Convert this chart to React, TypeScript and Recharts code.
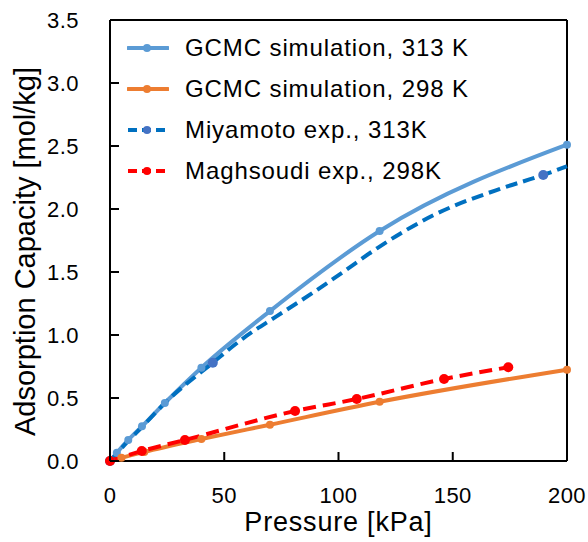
import React from "react";
import {
  ComposedChart,
  Line,
  XAxis,
  YAxis,
  ReferenceLine,
  Legend,
  Label,
} from "recharts";

// GCMC simulation, 313 K
const gcmc313P = [0, 3, 8, 14, 24, 40, 70, 118, 200];
const gcmc313Q = [0, 0.065, 0.167, 0.275, 0.46, 0.74, 1.19, 1.825, 2.51];

// GCMC simulation, 298 K
const gcmc298P = [0, 5, 15, 40, 70, 118, 200];
const gcmc298Q = [0, 0.025, 0.072, 0.174, 0.288, 0.47, 0.725];

// Miyamoto exp., 313K (curve + measured markers)
const miyamotoP = [0, 3, 8, 14, 24, 45, 58, 73, 87.5, 102, 117, 141.5, 170.7, 189.6, 200];
const miyamotoQ = [0, 0.06, 0.16, 0.27, 0.46, 0.78, 0.97, 1.15, 1.32, 1.5, 1.69, 1.95, 2.16, 2.27, 2.34];
const miyamotoMarkP = [0, 45, 189.6];
const miyamotoMarkQ = [0, 0.78, 2.27];

// Maghsoudi exp., 298K
const maghsoudiP = [0, 13.9, 32.8, 81, 108, 146.2, 174.3];
const maghsoudiQ = [0, 0.079, 0.167, 0.397, 0.492, 0.651, 0.744];

const xTicks = [0, 50, 100, 150, 200];
const yTicks = [0, 0.5, 1, 1.5, 2, 2.5, 3, 3.5];

const legendItems = [
  { name: "GCMC simulation, 313 K", color: "#5B9BD5", dot: "#5B9BD5", dashed: false },
  { name: "GCMC simulation, 298 K", color: "#ED7D31", dot: "#ED7D31", dashed: false },
  { name: "Miyamoto exp., 313K", color: "#0070C0", dot: "#4472C4", dashed: true },
  { name: "Maghsoudi exp., 298K", color: "#FF0000", dot: "#FF0000", dashed: true },
];

const FONT = "'Liberation Sans', Arial, sans-serif";

const toPoints = (ps: number[], qs: number[]) =>
  ps.map((p, i) => ({ p, q: qs[i] }));

// ticks point inward, like the Excel original
const XTick = (props: any) => {
  const { x, y, payload } = props;
  return (
    <g>
      <path d={`M${x},${y}V${y - 9}`} stroke="#000" strokeWidth={2} fill="none" />
      <text
        x={x}
        y={y + 42}
        textAnchor="middle"
        fontSize={22}
        fontFamily={FONT}
        fill="#000"
        letterSpacing={0.5}
      >
        {payload.value}
      </text>
    </g>
  );
};

const YTick = (props: any) => {
  const { x, y, payload } = props;
  return (
    <g>
      <path d={`M${x},${y}H${x + 9}`} stroke="#000" strokeWidth={2} fill="none" />
      <text
        x={x - 31}
        y={y + 8}
        textAnchor="end"
        fontSize={22}
        fontFamily={FONT}
        fill="#000"
        letterSpacing={0.5}
      >
        {Number(payload.value).toFixed(1)}
      </text>
    </g>
  );
};

const LegendBox = () => (
  <div style={{ fontFamily: FONT, fontSize: 24, letterSpacing: 0.9, color: "#000" }}>
    {legendItems.map((item) => (
      <div
        key={item.name}
        style={{ display: "flex", alignItems: "center", height: 41 }}
      >
        <svg width={42} height={12} style={{ marginRight: 16 }}>
          {item.dashed ? (
            <line
              x1={1}
              y1={6}
              x2={41}
              y2={6}
              stroke={item.color}
              strokeWidth={4}
              strokeDasharray="9 5"
            />
          ) : (
            <line
              x1={1}
              y1={6}
              x2={41}
              y2={6}
              stroke={item.color}
              strokeWidth={4}
              strokeLinecap="round"
            />
          )}
          <circle cx={20} cy={6} r={4} fill={item.dot} />
        </svg>
        <span>{item.name}</span>
      </div>
    ))}
  </div>
);

const App = () => {
  return (
    <div
      style={{
        position: "absolute",
        left: 0,
        top: 0,
        width: 588,
        height: 542,
        background: "#fff",
      }}
    >
      <ComposedChart
        width={588}
        height={542}
        margin={{ top: 20, right: 21, left: 0, bottom: 0 }}
      >
        <XAxis
          dataKey="p"
          type="number"
          domain={[0, 200]}
          ticks={xTicks}
          interval={0}
          height={81}
          axisLine={{ stroke: "#000", strokeWidth: 2 }}
          tickLine={false}
          tickSize={0}
          tickMargin={0}
          tick={<XTick />}
        >
          <Label
            content={(props: any) => {
              const vb = props.viewBox || {};
              return (
                <text
                  x={vb.x + vb.width / 2}
                  y={531}
                  textAnchor="middle"
                  fontSize={27}
                  letterSpacing={0.8}
                  fontFamily={FONT}
                  fill="#000"
                >
                  Pressure [kPa]
                </text>
              );
            }}
          />
        </XAxis>
        <YAxis
          type="number"
          domain={[0, 3.5]}
          ticks={yTicks}
          interval={0}
          width={110}
          axisLine={{ stroke: "#000", strokeWidth: 2 }}
          tickLine={false}
          tickSize={0}
          tickMargin={0}
          tick={<YTick />}
        >
          <Label
            content={(props: any) => {
              const vb = props.viewBox || {};
              const cy = vb.y + vb.height / 2 + 11;
              return (
                <text
                  x={35}
                  y={cy}
                  transform={`rotate(-90, 35, ${cy})`}
                  textAnchor="middle"
                  fontSize={29}
                  fontFamily={FONT}
                  fill="#000"
                >
                  Adsorption Capacity [mol/kg]
                </text>
              );
            }}
          />
        </YAxis>
        <ReferenceLine y={3.5} stroke="#000" strokeWidth={2} />
        <ReferenceLine x={200} stroke="#000" strokeWidth={2} />
        <Legend
          layout="vertical"
          align="center"
          verticalAlign="middle"
          wrapperStyle={{ top: 27, left: 127, width: "auto" }}
          content={() => <LegendBox />}
        />
        <Line
          data={toPoints(gcmc313P, gcmc313Q)}
          dataKey="q"
          type="monotone"
          stroke="#5B9BD5"
          strokeWidth={4}
          dot={{ r: 4, fill: "#5B9BD5", stroke: "none" }}
          activeDot={false}
          isAnimationActive={false}
        />
        <Line
          data={toPoints(gcmc298P, gcmc298Q)}
          dataKey="q"
          type="monotone"
          stroke="#ED7D31"
          strokeWidth={4}
          dot={{ r: 4, fill: "#ED7D31", stroke: "none" }}
          activeDot={false}
          isAnimationActive={false}
        />
        <Line
          data={toPoints(miyamotoP, miyamotoQ)}
          dataKey="q"
          type="monotone"
          stroke="#0070C0"
          strokeWidth={4}
          strokeDasharray="12 6"
          dot={false}
          activeDot={false}
          isAnimationActive={false}
        />
        <Line
          data={toPoints(miyamotoMarkP, miyamotoMarkQ)}
          dataKey="q"
          stroke="none"
          dot={{ r: 5, fill: "#4472C4", stroke: "none" }}
          activeDot={false}
          isAnimationActive={false}
        />
        <Line
          data={toPoints(maghsoudiP, maghsoudiQ)}
          dataKey="q"
          type="monotone"
          stroke="#FF0000"
          strokeWidth={4}
          strokeDasharray="13 7"
          dot={{ r: 5, fill: "#FF0000", stroke: "none" }}
          activeDot={false}
          isAnimationActive={false}
        />
      </ComposedChart>
    </div>
  );
};

export default App;
